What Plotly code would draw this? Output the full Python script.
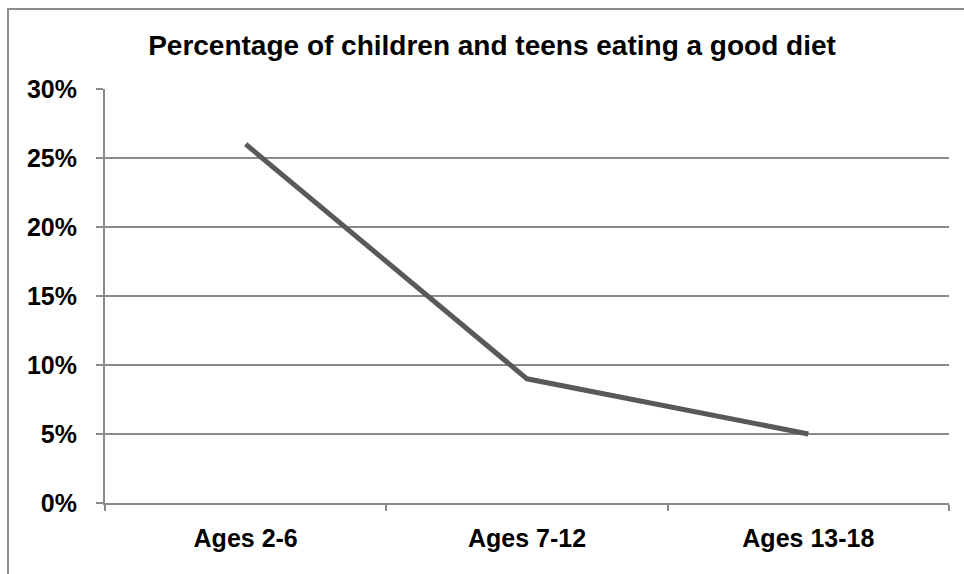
import plotly.graph_objects as go

categories = ["Ages 2-6", "Ages 7-12", "Ages 13-18"]
share_good_diet = [0.26, 0.09, 0.05]
y_ticks = [0, 0.05, 0.10, 0.15, 0.20, 0.25, 0.30]
y_tick_labels = ["0%", "5%", "10%", "15%", "20%", "25%", "30%"]

W, H = 964, 574
L, R, T, B = 105, 15, 89, 71
pw, ph = W - L - R, H - T - B

font = "Liberation Sans, Arial, sans-serif"
grid = "#8a8a8a"

fig = go.Figure(
    go.Scatter(
        x=categories,
        y=share_good_diet,
        mode="lines",
        line=dict(color="#595959", width=5),
        hoverinfo="x+y",
    )
)

fig.update_layout(
    width=W,
    height=H,
    margin=dict(l=L, r=R, t=T, b=B),
    paper_bgcolor="white",
    plot_bgcolor="white",
    showlegend=False,
    title=dict(
        text="<b>Percentage of children and teens eating a good diet</b>",
        x=492 / W,
        xanchor="center",
        y=1 - 45 / H,
        yanchor="middle",
        font=dict(family=font, size=28, color="black"),
    ),
    xaxis=dict(
        type="category",
        tickson="boundaries",
        ticks="outside",
        ticklen=6,
        tickcolor=grid,
        tickwidth=2,
        showline=True,
        linecolor=grid,
        linewidth=2,
        showgrid=False,
        tickfont=dict(family=font, size=25, color="black"),
        ticklabelstandoff=12,
        range=[-0.5, 2.5],
        fixedrange=True,
    ),
    yaxis=dict(
        range=[0, 0.30],
        tickvals=y_ticks,
        ticktext=[f"<b>{t}</b>" for t in y_tick_labels],
        ticks="outside",
        ticklen=7,
        tickcolor=grid,
        tickwidth=2,
        showline=True,
        linecolor=grid,
        linewidth=2,
        showgrid=True,
        gridcolor=grid,
        gridwidth=1.5,
        zeroline=False,
        tickfont=dict(family=font, size=25, color="black"),
        ticklabelstandoff=14,
        fixedrange=True,
    ),
)

fig.update_xaxes(ticktext=[f"<b>{c}</b>" for c in categories], tickvals=categories)

# outer chart frame
fig.add_shape(
    type="rect",
    xref="paper",
    yref="paper",
    x0=(8 - L) / pw,
    x1=(W + 10 - L) / pw,
    y0=-(B + 10) / ph,
    y1=(H - B - 9) / ph,
    line=dict(color="#8c8c8c", width=2),
    fillcolor="rgba(0,0,0,0)",
    layer="below",
)

fig.write_html("out.html")
